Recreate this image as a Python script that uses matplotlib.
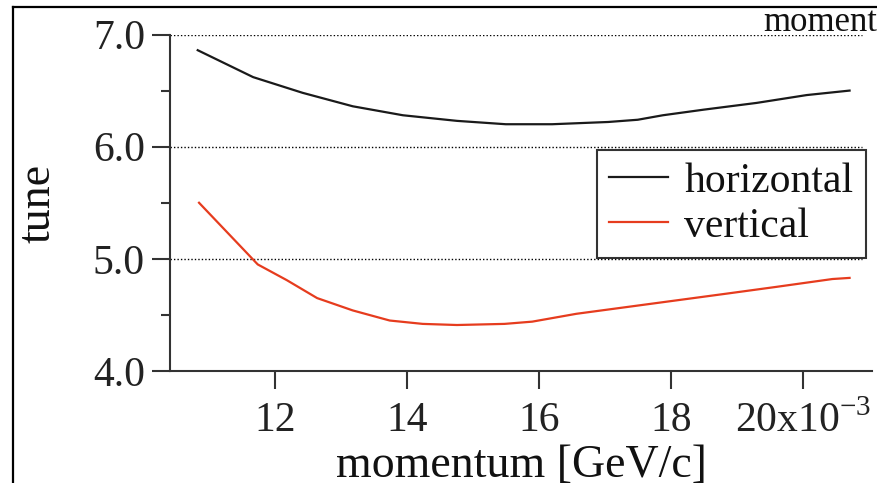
import matplotlib
matplotlib.use('Agg')
import matplotlib.pyplot as plt
from matplotlib.lines import Line2D
from matplotlib.ticker import MultipleLocator

# momentum in units of 1e-3 GeV/c
p_h = [10.83, 11.67, 12.42, 13.18, 13.94, 14.76, 15.5, 16.2, 17.05, 17.5, 17.88, 18.5, 19.3, 20.06, 20.71]
tune_h = [6.86, 6.62, 6.48, 6.36, 6.28, 6.23, 6.20, 6.20, 6.22, 6.24, 6.28, 6.33, 6.39, 6.46, 6.50]

p_v = [10.85, 11.74, 12.18, 12.64, 13.18, 13.74, 14.24, 14.76, 15.48, 15.9, 16.57, 17.33, 18.09, 18.85, 19.6, 20.45, 20.71]
tune_v = [5.50, 4.95, 4.81, 4.65, 4.54, 4.45, 4.42, 4.41, 4.42, 4.44, 4.51, 4.57, 4.63, 4.69, 4.75, 4.82, 4.83]

xticks = [12, 14, 16, 18, 20]
xticklabels = ['12', '14', '16', '18', '20x10$^{\\mathrm{-3}}$']
yticks = [4.0, 5.0, 6.0, 7.0]

plt.rcParams['font.family'] = ['Liberation Serif', 'DejaVu Serif']
plt.rcParams['mathtext.fontset'] = 'custom'
plt.rcParams['mathtext.rm'] = 'Liberation Serif'

W, H = 877, 483
fig = plt.figure(figsize=(W / 100, H / 100), dpi=100)
ax = fig.add_axes([170 / W, 1 - 371 / H, (872 - 170) / W, (371 - 34.5) / H])

ax.plot(p_h, tune_h, color='#1a1a1a', lw=1.6, label='horizontal')
ax.plot(p_v, tune_v, color='#e63c1e', lw=1.6, label='vertical')

ax.set_xlim(10.41, 21.05)
ax.set_ylim(4.0, 7.0)

ax.spines['top'].set_visible(False)
ax.spines['right'].set_visible(False)
for s in ['left', 'bottom']:
    ax.spines[s].set_color('#333333')
    ax.spines[s].set_linewidth(1.5)

ax.set_xticks(xticks)
ax.set_xticklabels(xticklabels)
ax.set_yticks(yticks)
ax.set_yticklabels(['%.1f' % v for v in yticks])
ax.yaxis.set_minor_locator(MultipleLocator(0.5))
ax.tick_params(axis='both', which='major', direction='out', length=13, width=1.5,
               color='#333333', labelsize=30, labelcolor='#222222')
ax.tick_params(axis='y', which='minor', direction='out', length=6.5, width=1.5, color='#333333')
ax.tick_params(axis='x', which='major', pad=9)
ax.tick_params(axis='y', which='major', pad=5)

for y in [5.0, 6.0, 7.0]:
    ax.axhline(y, xmin=0, xmax=(862 - 170) / (872 - 170), color='black', lw=1,
               linestyle=(0, (1, 1.5)), zorder=0)

ax.set_xlabel('momentum [GeV/c]', fontsize=33, color='#111111')
ax.xaxis.set_label_coords(0.5, (371 - 477) / (371 - 34.5))
ax.xaxis.label.set_va('baseline')

fig.text(60 / W, 1 - 203 / H, 'tune', rotation=90, ha='right', va='center',
         fontsize=33, color='#111111')

leg = ax.legend(loc='upper right', bbox_to_anchor=((866 - 170) / 702, (371 - 150) / 336.5),
                borderaxespad=0, fontsize=30, frameon=True, fancybox=False,
                handlelength=1.4, handletextpad=0.4, labelspacing=0.15, borderpad=0.3)
leg.get_frame().set_edgecolor('black')
leg.get_frame().set_linewidth(1.5)
for t in leg.get_texts():
    t.set_color('#111111')

# clipped title text at the top right
fig.text(763 / W, 1 - 31 / H, 'momentum', fontsize=25, ha='left', va='baseline', color='#111111')

# outer frame
fig.add_artist(Line2D([13 / W, 13 / W], [0, 1 - 7 / H], transform=fig.transFigure, color='black', lw=1.6))
fig.add_artist(Line2D([13 / W, 1], [1 - 7 / H, 1 - 7 / H], transform=fig.transFigure, color='black', lw=1.6))

fig.savefig('out.png', dpi=100)
